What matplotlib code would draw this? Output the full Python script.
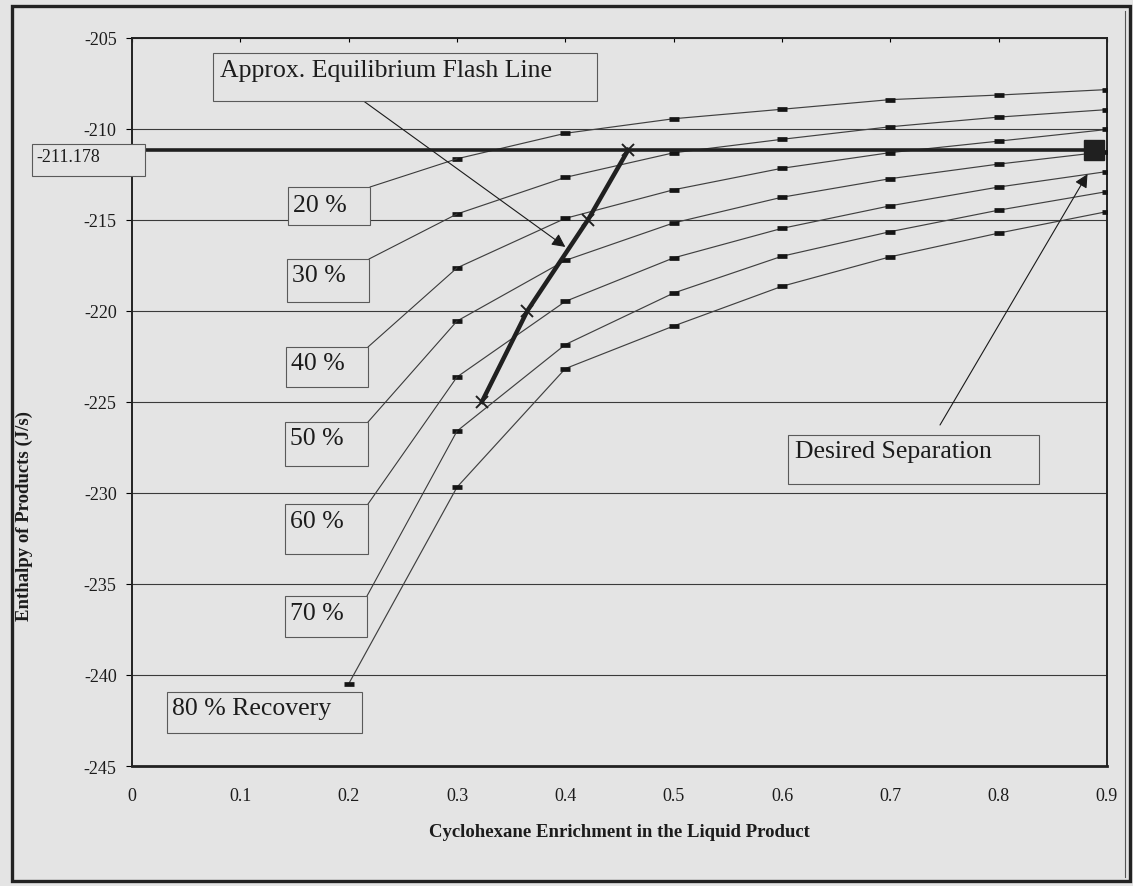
import matplotlib
matplotlib.use("Agg")
import matplotlib.pyplot as plt
import numpy as np
from matplotlib.patches import Rectangle

plt.rcParams["font.family"] = ["Liberation Serif", "DejaVu Serif"]

W, H = 1133, 887
BG = "#e4e4e4"
INK = "#1c1c1c"
LINE = "#3a3a3a"

# cyclohexane mole fraction in the liquid product
enrichment = [0.2, 0.3, 0.4, 0.5, 0.6, 0.7, 0.8, 0.9]

# product enthalpy (J/s) along each recovery curve
h_20 = [-211.66, -210.26, -209.46, -208.94, -208.41, -208.16, -207.86]
h_30 = [-214.69, -212.68, -211.33, -210.59, -209.90, -209.37, -208.96]
h_40 = [-217.65, -214.93, -213.36, -212.18, -211.32, -210.69, -210.05]
h_50 = [-220.57, -217.24, -215.18, -213.77, -212.75, -211.95, -211.26]
h_60 = [-223.64, -219.49, -217.10, -215.48, -214.24, -213.21, -212.36]
h_70 = [-226.61, -221.86, -219.03, -217.01, -215.66, -214.48, -213.46]
h_80 = [-240.49, -229.69, -223.18, -220.84, -218.66, -217.04, -215.74, -214.56]

recovery_labels = ["20 %", "30 %", "40 %", "50 %", "60 %", "70 %", "80 % Recovery"]

# approximate equilibrium flash line
flash_x = [0.323, 0.365, 0.421, 0.458]
flash_h = [-225.0, -220.0, -215.0, -211.178]

# desired separation
target_x = 0.888
target_h = -211.178

x_ticks = [0, 0.1, 0.2, 0.3, 0.4, 0.5, 0.6, 0.7, 0.8, 0.9]
y_ticks = [-245, -240, -235, -230, -225, -220, -215, -210, -205]


def fx(px):
    return px / W


def fy(py):
    return 1 - py / H


fig = plt.figure(figsize=(W / 100, H / 100), dpi=100, facecolor=BG)
ax = fig.add_axes([fx(132), fy(767), (1107 - 132) / W, (767 - 38.5) / H])
ax.set_facecolor(BG)
ax.set_xlim(0, 0.9)
ax.set_ylim(-245, -205)

ax.set_xticks(x_ticks)
ax.set_xticklabels([f"{v:g}" for v in x_ticks])
ax.set_yticks(y_ticks)
ax.set_yticklabels([str(v) for v in y_ticks])
ax.tick_params(axis="x", bottom=False, top=True, direction="in", length=3,
               width=0.8, labelsize=13, pad=15, labelcolor=INK)
ax.tick_params(axis="y", direction="out", length=4, width=0.8,
               labelsize=13, pad=7, labelcolor=INK)
ax.yaxis.grid(True, color=LINE, lw=0.8)
ax.set_axisbelow(True)

for side in ("left", "top", "right"):
    ax.spines[side].set_linewidth(1.4)
    ax.spines[side].set_color("#222222")
ax.spines["bottom"].set_linewidth(2.0)
ax.spines["bottom"].set_color("#222222")

ax.set_xlabel("Cyclohexane Enrichment in the Liquid Product",
              fontsize=13.5, fontweight="bold", color=INK, labelpad=14)
ax.set_ylabel("Enthalpy of Products (J/s)",
              fontsize=13.5, fontweight="bold", color=INK)
ax.yaxis.set_label_coords(-0.1015, 0.3445)

curves = [h_20, h_30, h_40, h_50, h_60, h_70, h_80]
for h in curves:
    xs = enrichment[-len(h):]
    ax.plot(xs, h, color="#404040", lw=0.85, marker="_", ms=6.5, mew=3.4,
            mec="#151515", zorder=3)

# target enthalpy line and desired separation point
ax.plot([0, target_x], [target_h, target_h], color="#202020", lw=2.6,
        solid_capstyle="butt", zorder=4)
ax.plot([target_x], [target_h], marker="s", ms=15, color="#202020", zorder=5)

ax.plot(flash_x, flash_h, color="#202020", lw=3.2, marker="x", ms=9,
        mew=1.4, zorder=5)

# callout boxes: (left, top, right, bottom, text left, baseline) in pixels
label_boxes = [
    (288, 188, 370, 226, 293, 212),
    (287, 260, 369, 303, 292, 282),
    (286, 348, 368, 388, 291, 370),
    (285, 423, 368, 467, 290, 445),
    (285, 505, 368, 555, 290, 528),
    (285, 597, 367, 638, 290, 620),
    (167, 693, 362, 734, 172, 715),
]


def add_box(l, t, r, b, text, tx, ty, size):
    fig.patches.append(Rectangle((fx(l), fy(b)), (r - l) / W, (b - t) / H,
                                 transform=fig.transFigure, facecolor=BG,
                                 edgecolor="#5a5a5a", lw=0.8, zorder=6))
    fig.text(fx(tx), fy(ty), text, fontsize=size, color=INK,
             ha="left", va="baseline", zorder=7)


for i, (label, h) in enumerate(zip(recovery_labels, curves)):
    l, t, r, b, tx, ty = label_boxes[i]
    add_box(l, t, r, b, label, tx, ty, 18.5)
    if i < len(curves) - 1:
        ax.annotate("", xy=(enrichment[1], h[0]), xycoords="data",
                    xytext=(fx(r), fy(t)), textcoords="figure fraction",
                    arrowprops=dict(arrowstyle="-", lw=0.8, color=LINE,
                                    shrinkA=0, shrinkB=0))

add_box(213, 54, 597, 102, "Approx. Equilibrium Flash Line", 220, 77, 18.5)
add_box(788, 436, 1039, 485, "Desired Separation", 795, 458, 18.5)
add_box(32, 145, 145, 177, f"{target_h:g}", 36, 162, 13)

arrow_kw = dict(arrowstyle="-|>", lw=0.8, color="#1a1a1a",
                mutation_scale=20, shrinkA=0, shrinkB=0)
ax.annotate("", xy=(0.4, -216.5), xycoords="data",
            xytext=(fx(358), fy(98)), textcoords="figure fraction",
            arrowprops=arrow_kw)
ax.annotate("", xy=(0.882, -212.5), xycoords="data",
            xytext=(fx(940), fy(426)), textcoords="figure fraction",
            arrowprops=arrow_kw)

# outer border, doubled on the right edge
fig.patches.append(Rectangle((fx(12), fy(882)), (1130 - 12) / W, (882 - 7) / H,
                             transform=fig.transFigure, fill=False,
                             edgecolor="#222222", lw=2.4, zorder=8))
fig.add_artist(plt.Line2D([fx(1125), fx(1125)], [fy(12), fy(878)],
                          transform=fig.transFigure, color="#555555", lw=0.8))

fig.savefig("out.png", dpi=100, facecolor=BG)
